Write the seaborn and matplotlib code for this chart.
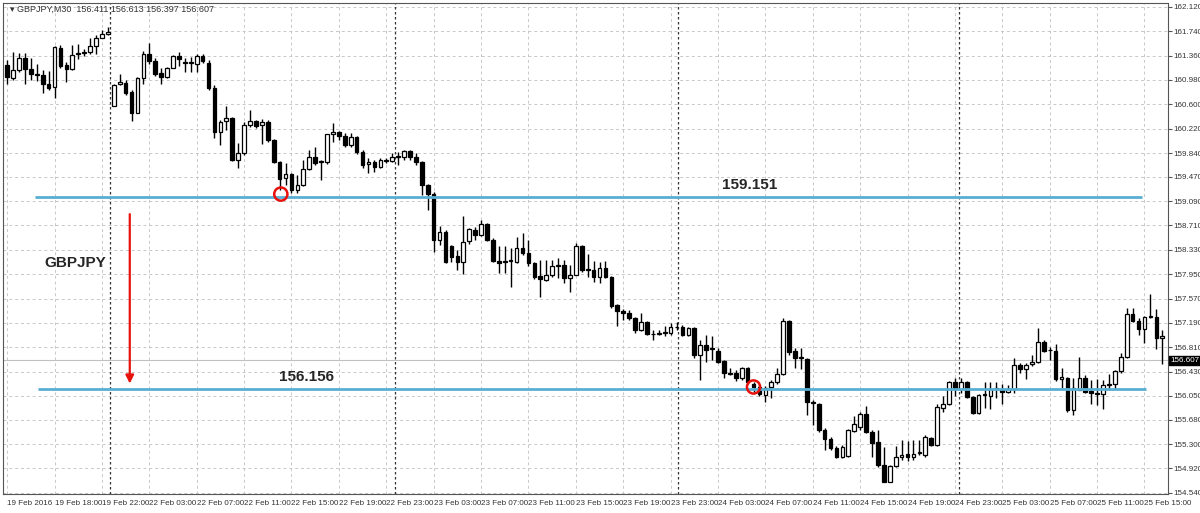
import matplotlib
matplotlib.use("Agg")
import matplotlib.pyplot as plt
import seaborn as sns
import numpy as np

sns.set_theme(style="white")
plt.rcParams['font.family'] = ['Liberation Sans Narrow', 'Liberation Sans', 'DejaVu Sans']

# GBPJPY M30 candles
opens = [161.21, 161.01, 161.14, 161.32, 161.15, 161.07, 161.06, 160.92, 160.87, 161.48,
         161.21, 161.15, 161.39, 161.40, 161.42, 161.51, 161.64, 161.70, 160.58, 160.92,
         160.93, 160.79, 160.47, 161.01, 161.39, 161.28, 161.09, 161.03, 161.17, 161.36,
         161.26, 161.25, 161.23, 161.36, 161.25, 160.86, 160.17, 160.34, 160.39, 159.73,
         159.84, 160.28, 160.34, 160.28, 160.33, 160.05, 159.70, 159.45, 159.51, 159.26,
         159.34, 159.59, 159.78, 159.70, 159.70, 160.13, 160.17, 160.11, 159.97, 160.09,
         159.86, 159.67, 159.70, 159.62, 159.72, 159.72, 159.78, 159.78, 159.87, 159.78,
         159.70, 159.34, 159.20, 158.49, 158.61, 158.39, 158.24, 158.14, 158.47, 158.64,
         158.56, 158.73, 158.49, 158.16, 158.14, 158.16, 158.14, 158.36, 158.28, 158.13,
         157.92, 157.86, 157.94, 158.08, 158.10, 157.89, 157.94, 158.39, 158.03, 158.02,
         157.91, 158.05, 157.91, 157.47, 157.38, 157.35, 157.27, 157.08, 157.21, 157.02,
         157.02, 157.03, 157.03, 157.13, 157.13, 157.00, 157.11, 156.69, 156.85, 156.78,
         156.75, 156.60, 156.41, 156.41, 156.33, 156.49, 156.24, 156.19, 156.07, 156.19,
         156.26, 156.39, 157.22, 156.75, 156.64, 156.63, 155.94, 155.93, 155.52, 155.38,
         155.24, 155.10, 155.12, 155.51, 155.57, 155.77, 155.49, 155.33, 154.97, 154.71,
         154.96, 155.10, 155.15, 155.09, 155.16, 155.13, 155.40, 155.29, 155.86, 155.93,
         156.26, 156.16, 156.27, 156.04, 155.79, 156.07, 156.05, 156.16, 156.16, 156.11,
         156.16, 156.54, 156.47, 156.55, 156.58, 156.89, 156.77, 156.75, 156.32, 156.33,
         155.83, 156.15, 156.33, 156.13, 156.10, 156.08, 156.22, 156.24, 156.44, 156.66,
         157.33, 157.22, 157.10, 157.28, 157.28, 156.96]
highs = [161.29, 161.42, 161.40, 161.40, 161.32, 161.23, 161.14, 161.12, 161.51, 161.53,
         161.26, 161.53, 161.54, 161.46, 161.64, 161.68, 161.76, 161.81, 160.92, 161.07,
         160.98, 160.83, 161.03, 161.43, 161.56, 161.32, 161.17, 161.18, 161.37, 161.42,
         161.32, 161.34, 161.39, 161.39, 161.29, 160.90, 160.36, 160.58, 160.40, 160.00,
         160.33, 160.51, 160.36, 160.37, 160.36, 160.06, 159.71, 159.69, 159.53, 159.50,
         159.73, 159.89, 159.94, 159.73, 160.14, 160.31, 160.19, 160.15, 160.15, 160.11,
         159.89, 159.76, 159.73, 159.76, 159.76, 159.84, 159.86, 159.89, 159.89, 159.84,
         159.72, 159.36, 159.23, 158.70, 158.64, 158.41, 158.33, 158.86, 158.67, 158.69,
         158.80, 158.75, 158.52, 158.39, 158.39, 158.36, 158.53, 158.59, 158.48, 158.14,
         158.17, 158.17, 158.17, 158.20, 158.17, 158.10, 158.44, 158.41, 158.27, 158.16,
         158.14, 158.16, 157.92, 157.48, 157.41, 157.39, 157.28, 157.35, 157.22, 157.08,
         157.08, 157.14, 157.19, 157.21, 157.16, 157.13, 157.13, 156.92, 157.00, 156.99,
         156.80, 156.61, 156.49, 156.46, 156.50, 156.50, 156.26, 156.22, 156.21, 156.30,
         156.49, 157.27, 157.23, 156.80, 156.80, 156.64, 155.99, 155.94, 155.55, 155.41,
         155.27, 155.29, 155.53, 155.74, 155.80, 155.90, 155.52, 155.52, 155.26, 154.97,
         155.27, 155.36, 155.35, 155.36, 155.36, 155.44, 155.41, 155.93, 156.05, 156.29,
         156.33, 156.33, 156.29, 156.05, 156.08, 156.26, 156.26, 156.26, 156.24, 156.22,
         156.64, 156.57, 156.57, 156.69, 157.11, 156.92, 156.82, 156.86, 156.49, 156.35,
         156.33, 156.66, 156.38, 156.30, 156.32, 156.30, 156.39, 156.46, 156.72, 157.42,
         157.42, 157.27, 157.30, 157.64, 157.41, 157.08]
lows = [160.92, 160.98, 161.11, 160.92, 160.98, 160.97, 160.78, 160.83, 160.70, 161.17,
        160.95, 161.14, 161.31, 161.36, 161.39, 161.39, 161.63, 161.68, 160.57, 160.90,
        160.75, 160.34, 160.46, 160.92, 161.23, 161.04, 160.92, 161.01, 161.16, 161.20,
        161.11, 161.11, 161.11, 161.25, 160.83, 160.08, 159.97, 160.20, 159.72, 159.61,
        159.81, 160.25, 160.23, 159.98, 160.01, 159.69, 159.26, 159.34, 159.22, 159.22,
        159.33, 159.58, 159.66, 159.42, 159.67, 160.01, 160.05, 159.94, 159.94, 159.83,
        159.61, 159.53, 159.55, 159.61, 159.69, 159.70, 159.66, 159.73, 159.73, 159.66,
        159.19, 158.95, 158.30, 158.41, 158.13, 158.14, 158.02, 157.95, 158.42, 158.48,
        158.55, 158.47, 158.14, 157.97, 157.97, 157.75, 158.13, 158.25, 158.08, 157.88,
        157.60, 157.85, 157.91, 157.89, 157.82, 157.67, 157.93, 157.99, 157.91, 157.83,
        157.82, 157.89, 157.42, 157.14, 157.24, 157.24, 157.03, 157.07, 157.00, 156.92,
        157.00, 156.99, 157.00, 157.08, 156.99, 156.99, 156.64, 156.30, 156.58, 156.61,
        156.57, 156.33, 156.38, 156.29, 156.30, 156.24, 156.11, 156.05, 155.96, 156.02,
        156.24, 156.38, 156.69, 156.49, 156.47, 155.76, 155.60, 155.49, 155.21, 155.21,
        155.08, 155.08, 155.10, 155.49, 155.52, 155.47, 155.10, 154.94, 154.70, 154.70,
        154.94, 155.05, 155.04, 155.05, 155.13, 155.09, 155.27, 155.27, 155.80, 155.91,
        156.05, 156.10, 156.02, 155.77, 155.77, 155.86, 155.85, 156.02, 155.93, 156.10,
        156.10, 156.41, 156.32, 156.52, 156.57, 156.74, 156.61, 156.29, 156.18, 155.80,
        155.76, 156.14, 156.10, 155.93, 155.91, 155.85, 156.14, 156.16, 156.41, 156.64,
        157.21, 157.00, 156.88, 157.27, 156.79, 156.55]
closes = [161.03, 161.14, 161.32, 161.15, 161.07, 161.06, 160.92, 160.86, 161.50, 161.20,
          161.15, 161.37, 161.40, 161.42, 161.51, 161.64, 161.70, 161.73, 160.90, 160.95,
          160.78, 160.47, 161.01, 161.39, 161.28, 161.07, 161.03, 161.17, 161.36, 161.31,
          161.25, 161.26, 161.36, 161.28, 160.86, 160.17, 160.33, 160.39, 159.73, 159.84,
          160.28, 160.34, 160.26, 160.33, 160.05, 159.70, 159.44, 159.51, 159.26, 159.34,
          159.59, 159.78, 159.69, 159.71, 160.13, 160.17, 160.11, 159.97, 160.09, 159.86,
          159.66, 159.70, 159.62, 159.73, 159.73, 159.78, 159.79, 159.87, 159.78, 159.70,
          159.34, 159.20, 158.49, 158.61, 158.14, 158.22, 158.14, 158.45, 158.66, 158.56,
          158.73, 158.49, 158.16, 158.13, 158.15, 158.17, 158.36, 158.28, 158.13, 157.91,
          157.88, 157.94, 158.08, 158.09, 157.89, 157.94, 158.39, 158.02, 158.01, 157.91,
          158.05, 157.91, 157.46, 157.38, 157.35, 157.27, 157.08, 157.21, 157.02, 157.01,
          157.03, 157.04, 157.13, 157.12, 157.00, 157.11, 156.69, 156.85, 156.77, 156.79,
          156.58, 156.41, 156.40, 156.33, 156.49, 156.26, 156.19, 156.08, 156.18, 156.26,
          156.39, 157.22, 156.74, 156.64, 156.65, 155.96, 155.95, 155.52, 155.38, 155.24,
          155.10, 155.26, 155.52, 155.61, 155.77, 155.49, 155.32, 154.97, 154.71, 154.96,
          155.10, 155.13, 155.09, 155.15, 155.17, 155.41, 155.29, 155.88, 155.93, 156.27,
          156.16, 156.27, 156.04, 155.79, 156.07, 156.08, 156.16, 156.17, 156.11, 156.16,
          156.54, 156.47, 156.54, 156.58, 156.89, 156.75, 156.76, 156.32, 156.35, 155.83,
          156.18, 156.33, 156.11, 156.10, 156.08, 156.22, 156.23, 156.44, 156.66, 157.33,
          157.22, 157.10, 157.28, 157.29, 156.96, 156.99]

tick_labels = ["19 Feb 2016", "19 Feb 18:00", "19 Feb 22:00", "22 Feb 03:00", "22 Feb 07:00",
               "22 Feb 11:00", "22 Feb 15:00", "22 Feb 19:00", "22 Feb 23:00", "23 Feb 03:00",
               "23 Feb 07:00", "23 Feb 11:00", "23 Feb 15:00", "23 Feb 19:00", "23 Feb 23:00",
               "24 Feb 03:00", "24 Feb 07:00", "24 Feb 11:00", "24 Feb 15:00", "24 Feb 19:00",
               "24 Feb 23:00", "25 Feb 03:00", "25 Feb 07:00", "25 Feb 11:00", "25 Feb 15:00"]
price_ticks = [162.120, 161.740, 161.360, 160.980, 160.600, 160.220, 159.840, 159.470,
               159.090, 158.710, 158.330, 157.950, 157.570, 157.190, 156.810, 156.430,
               156.050, 155.680, 155.300, 154.920, 154.540]
day_breaks = [17.4, 65.4, 113.2, 160.7]
level_high = 159.151
level_low = 156.156
last_price = 156.607

o = np.array(opens); h = np.array(highs); l = np.array(lows); c = np.array(closes)
idx = np.arange(len(o))
up = c >= o

fig = plt.figure(figsize=(12, 5.13), dpi=100)
ax = fig.add_axes([0.0025, 0.037, 0.9705, 0.957])

# grid
for t in range(0, len(idx), 8):
    ax.axvline(t, color="#c8c8c8", lw=0.7, ls=(0, (3, 3)), zorder=0)
for p in price_ticks:
    ax.axhline(p, color="#c8c8c8", lw=0.7, ls=(0, (3, 3)), zorder=0)
for d in day_breaks:
    ax.axvline(d, color="#333333", lw=0.9, ls=(0, (2, 2)), zorder=1)

ax.axhline(last_price, color="#c0c0c0", lw=0.8, zorder=1)

# candles
ax.vlines(idx, l, h, color="black", lw=1, zorder=2)
body = np.abs(c - o)
body = np.where(body < 0.012, 0.012, body)
ax.bar(idx[up], body[up], bottom=np.minimum(o, c)[up], width=0.62,
       color="white", edgecolor="black", linewidth=0.9, zorder=3)
ax.bar(idx[~up], body[~up], bottom=np.minimum(o, c)[~up], width=0.62,
       color="black", edgecolor="black", linewidth=0.9, zorder=3)

# levels
ax.hlines(level_high, 4.7, 191.6, color="#5aaed1", lw=2, zorder=4)
ax.hlines(level_low, 5.2, 192.2, color="#5aaed1", lw=2, zorder=4)
bold = ['Liberation Sans', 'DejaVu Sans']
ax.text(125.3, level_high + 0.08, f"{level_high:.3f}", fontsize=11, fontweight="bold",
        ha="center", va="bottom", family=bold)
ax.text(50.5, level_low + 0.08, f"{level_low:.3f}", fontsize=11, fontweight="bold",
        ha="center", va="bottom", family=bold)
ax.text(11.5, 158.12, "GBPJPY", fontsize=11, fontweight="bold", ha="center", va="center",
        family=bold)
ax.annotate("", xy=(20.7, 156.2), xytext=(20.7, 158.93),
            arrowprops=dict(arrowstyle="-|>", color="#e8120c", lw=1.6, mutation_scale=12))
ax.scatter([46.2, 126.0], [159.20, 156.19], s=90, facecolors="none",
           edgecolors="#e8120c", linewidths=1.8, zorder=5)

ax.text(0.4, 162.08, "▾ GBPJPY,M30  156.411 156.613 156.397 156.607", fontsize=6.5,
        color="#333333", ha="left", va="center", family=['Liberation Sans', 'DejaVu Sans'])

ax.set_xlim(-0.7, 195.9)
ax.set_ylim(154.52, 162.18)
ax.set_xticks(range(0, 8 * len(tick_labels), 8))
ax.set_xticklabels(tick_labels, fontsize=5.8, ha="left", color="#333333")
ax.yaxis.tick_right()
ax.set_yticks(price_ticks)
ax.set_yticklabels([f"{p:.3f}" for p in price_ticks], fontsize=5.8, color="#333333")
ax.tick_params(axis="both", length=3, width=0.8, color="#555555", pad=1, direction="out")
for s in ax.spines.values():
    s.set_color("#555555")
    s.set_linewidth(0.8)

ax.text(1.002, last_price, f"{last_price:.3f}", transform=ax.get_yaxis_transform(),
        fontsize=5.8, color="white", va="center", ha="left",
        bbox=dict(boxstyle="square,pad=0.12", fc="black", ec="black"))

fig.savefig("out.png", dpi=100)
